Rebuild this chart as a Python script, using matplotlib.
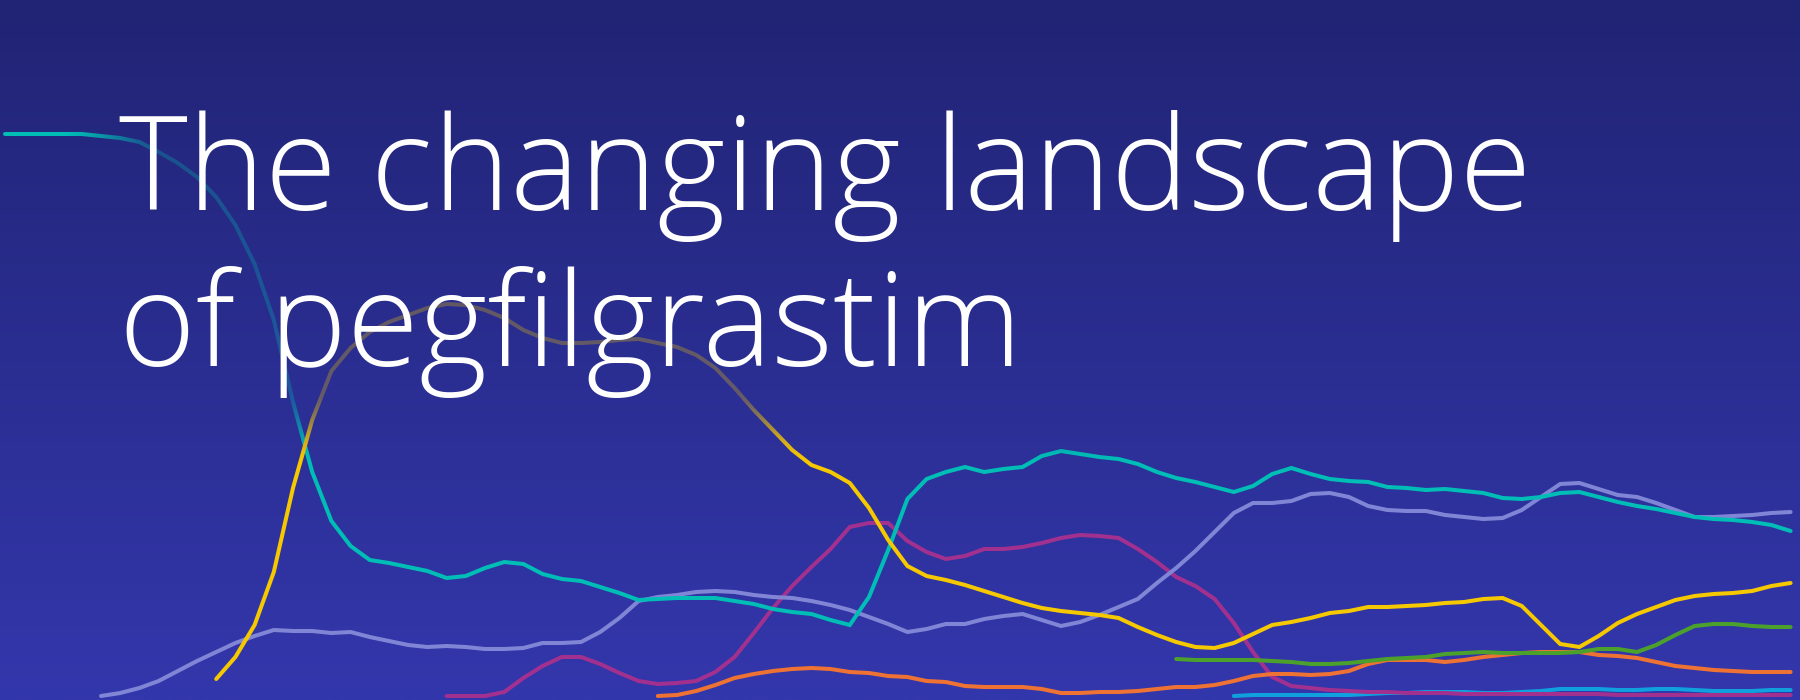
import numpy as np
import matplotlib
matplotlib.use("Agg")
import matplotlib.pyplot as plt
from matplotlib import font_manager as fm
from matplotlib.colors import to_rgb

# ---------------- data (share index per period) ----------------
teal_start = 0
teal = [56.6, 56.6, 56.6, 56.6, 56.6, 56.4, 56.2, 55.8, 54.8, 53.7,
        52.3, 50.3, 47.5, 43.6, 38.0, 29.8, 22.8, 17.9, 15.4, 14.0,
        13.7, 13.3, 12.9, 12.2, 12.4, 13.2, 13.8, 13.6, 12.6, 12.1,
        11.9, 11.3, 10.7, 10.0, 10.1, 10.2, 10.2, 10.2, 9.9, 9.6,
        9.1, 8.8, 8.6, 8.0, 7.5, 10.3, 15.0, 20.1, 22.1, 22.8,
        23.3, 22.8, 23.1, 23.3, 24.4, 24.9, 24.6, 24.3, 24.1, 23.6,
        22.8, 22.2, 21.8, 21.3, 20.8, 21.4, 22.6, 23.2, 22.6, 22.1,
        21.9, 21.8, 21.3, 21.2, 21.0, 21.1, 20.9, 20.7, 20.2, 20.1,
        20.3, 20.7, 20.8, 20.3, 19.8, 19.4, 19.1, 18.7, 18.3, 18.1,
        18.0, 17.8, 17.5, 16.9]

yellow_start = 11
yellow = [2.1, 4.3, 7.5, 12.8, 21.2, 28.0, 32.9, 35.2, 36.8,
          37.8, 38.5, 39.2, 39.6, 39.5, 39.0, 38.2, 37.0, 36.2, 35.7,
          35.7, 35.8, 36.0, 36.1, 35.7, 35.3, 34.5, 33.2, 31.2, 29.0,
          27.0, 25.0, 23.5, 22.8, 21.7, 19.2, 16.0, 13.4, 12.4, 12.0,
          11.5, 10.9, 10.3, 9.7, 9.2, 8.9, 8.7, 8.5, 8.2, 7.3,
          6.5, 5.8, 5.3, 5.2, 5.7, 6.6, 7.5, 7.8, 8.2, 8.7,
          8.9, 9.3, 9.3, 9.4, 9.5, 9.7, 9.8, 10.1, 10.2, 9.4,
          7.5, 5.6, 5.3, 6.4, 7.7, 8.6, 9.3, 10.0, 10.4, 10.6,
          10.7, 10.9, 11.4, 11.7]

lavender_start = 5
lavender = [0.4, 0.7, 1.2, 1.9, 2.9, 3.9, 4.8, 5.7, 6.4, 7.0,
            6.9, 6.9, 6.7, 6.8, 6.3, 5.9, 5.5, 5.3, 5.4, 5.3,
            5.1, 5.1, 5.2, 5.7, 5.7, 5.8, 6.8, 8.2, 9.9, 10.3,
            10.5, 10.8, 10.9, 10.8, 10.5, 10.3, 10.2, 9.9, 9.5, 9.0,
            8.3, 7.6, 6.8, 7.1, 7.6, 7.6, 8.1, 8.4, 8.6, 8.0,
            7.4, 7.8, 8.5, 9.3, 10.1, 11.7, 13.2, 14.9, 16.8, 18.7,
            19.7, 19.7, 19.9, 20.6, 20.7, 20.3, 19.4, 19.0, 18.9, 18.9,
            18.5, 18.3, 18.1, 18.2, 19.0, 20.3, 21.6, 21.7, 21.1, 20.5,
            20.3, 19.7, 19.0, 18.3, 18.3, 18.4, 18.5, 18.7, 18.8]

magenta_start = 23
magenta = [0.4, 0.4, 0.4, 0.8, 2.2, 3.4, 4.3, 4.3, 3.6, 2.7,
           1.9, 1.6, 1.7, 1.9, 2.8, 4.3, 6.7, 9.2, 11.4, 13.3,
           15.1, 17.3, 17.7, 17.7, 15.9, 14.8, 14.1, 14.4, 15.1, 15.1,
           15.3, 15.7, 16.2, 16.5, 16.4, 16.2, 15.1, 13.8, 12.3, 11.4,
           10.1, 7.7, 4.8, 2.3, 1.4, 1.2, 1.0, 0.9, 0.8, 0.8,
           0.7, 0.7, 0.7, 0.6, 0.6, 0.6, 0.6, 0.6, 0.6, 0.6,
           0.6, 0.5, 0.5, 0.5, 0.5, 0.5, 0.5, 0.5, 0.5, 0.5, 0.5]

orange_start = 34
orange = [0.4, 0.5, 0.9, 1.5, 2.2, 2.6, 2.9, 3.1, 3.2, 3.1,
          2.8, 2.7, 2.4, 2.3, 1.9, 1.8, 1.4, 1.3, 1.3, 1.3,
          1.1, 0.7, 0.7, 0.8, 0.8, 0.9, 1.1, 1.3, 1.3, 1.5,
          1.9, 2.4, 2.6, 2.6, 2.5, 2.6, 2.9, 3.6, 4.0, 4.0,
          4.0, 3.8, 4.0, 4.3, 4.5, 4.7, 4.8, 4.8, 4.8, 4.5,
          4.4, 4.2, 3.8, 3.4, 3.2, 3.0, 2.9, 2.8, 2.8, 2.8]

green_start = 61
green = [4.1, 4.0, 4.0, 4.0, 4.0, 3.9, 3.8, 3.6, 3.6, 3.7,
         3.9, 4.1, 4.2, 4.3, 4.6, 4.7, 4.8, 4.7, 4.7, 4.7,
         4.7, 4.8, 5.1, 5.1, 4.8, 5.5, 6.5, 7.4, 7.6, 7.6,
         7.4, 7.3, 7.3]

blue_start = 64
blue = [0.4, 0.5, 0.5, 0.5, 0.5, 0.5, 0.5, 0.6, 0.7, 0.7,
        0.8, 0.8, 0.8, 0.7, 0.7, 0.8, 0.9, 1.1, 1.1, 1.1,
        1.0, 1.0, 1.1, 1.1, 1.0, 0.9, 0.9, 0.9, 1.0, 1.0]

title_lines = ["The changing landscape", "of pegfilgrastim"]

# ---------------- styling ----------------
W, H, DPI = 1800, 700, 100
BG_TOP = "#212474"
BG_BOT = "#3337AC"
COL = {
    "teal": "#00BEB6",
    "yellow": "#F6C800",
    "lavender": "#8185D6",
    "magenta": "#A2308F",
    "orange": "#EE7233",
    "green": "#4BA12B",
    "blue": "#0FA0DD",
}

fig = plt.figure(figsize=(W / DPI, H / DPI), dpi=DPI)
ax = fig.add_axes([0, 0, 1, 1])
ax.set_axis_off()
XMIN, XMAX = -5 / 19.2, 1795 / 19.2
ax.set_xlim(XMIN, XMAX)
ax.set_ylim(0, 70)

# background vertical gradient
t = np.linspace(0, 1, H)[:, None]
top = np.array(to_rgb(BG_TOP))
bot = np.array(to_rgb(BG_BOT))
grad = (1 - t)[..., None] * top + t[..., None] * bot  # row 0 = top
grad = np.repeat(grad, 2, axis=1)
ax.imshow(grad, extent=[0, 1, 0, 1], transform=ax.transAxes,
          aspect="auto", zorder=0, interpolation="bilinear")

lw = 2.9
def draw(vals, start, color, z):
    x = np.arange(start, start + len(vals))
    ax.plot(x, vals, color=color, lw=lw, solid_capstyle="round",
            solid_joinstyle="miter", zorder=z)

draw(blue, blue_start, COL["blue"], 2)
draw(magenta, magenta_start, COL["magenta"], 2.1)
draw(orange, orange_start, COL["orange"], 2.2)
draw(green, green_start, COL["green"], 2.3)
draw(lavender, lavender_start, COL["lavender"], 2.4)
draw(teal, teal_start, COL["teal"], 2.5)
draw(yellow, yellow_start, COL["yellow"], 2.6)

# soft dimming veil behind the title
yy, xx = np.mgrid[0:H, 0:W].astype(float)
def smooth(u):
    u = np.clip(u, 0, 1)
    return u * u * (3 - 2 * u)
sx = smooth((xx - 55) / (165 - 55))
sy = smooth((465 - yy) / (465 - 390))
alpha = 0.72 * sx * sy
veil = np.zeros((H, W, 4))
colrows = (1 - np.linspace(0, 1, H))[:, None] * top + np.linspace(0, 1, H)[:, None] * bot
veil[..., :3] = colrows[:, None, :]
veil[..., 3] = alpha
ax.imshow(veil, extent=[0, 1, 0, 1], transform=ax.transAxes,
          aspect="auto", zorder=5, interpolation="bilinear")

# title font: Open Sans (normal width), Light weight if available
def wnum(w):
    if isinstance(w, str):
        return {"ultralight": 200, "extra light": 200, "light": 300,
                "normal": 400, "regular": 400, "book": 400,
                "medium": 500}.get(w.lower(), 400)
    return int(w)

def is_normal_width(f):
    s = f.stretch
    if isinstance(s, str):
        return s in ("normal", "medium")
    return s == 500

TITLE_SIZE = 94.3

def title_font():
    cands = []
    for f in fm.fontManager.ttflist:
        fn = f.fname.lower()
        if f.name in ("Open Sans", "Open Sans Light") and f.style == "normal" \
                and is_normal_width(f) and "condensed" not in fn \
                and "semicondensed" not in fn:
            cands.append((abs(wnum(f.weight) - 300), f.fname))
    if cands:
        cands.sort()
        return fm.FontProperties(fname=cands[0][1], size=TITLE_SIZE)
    return fm.FontProperties(family="DejaVu Sans", size=TITLE_SIZE)

fp = title_font()
fig.text(119 / W, 1 - 210 / H, title_lines[0], fontproperties=fp,
         color="white", ha="left", va="baseline", zorder=10)
fig.text(119 / W, 1 - 366 / H, title_lines[1], fontproperties=fp,
         color="white", ha="left", va="baseline", zorder=10)

fig.savefig("out.png", dpi=DPI)
